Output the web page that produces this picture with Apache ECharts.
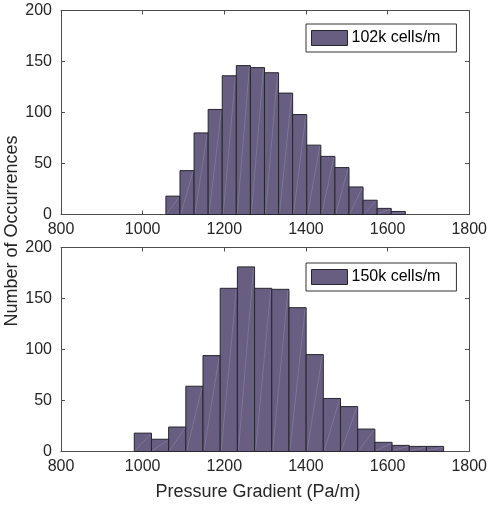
<!DOCTYPE html>
<html>
<head>
<meta charset="utf-8">
<script src="https://cdn.jsdelivr.net/npm/echarts@6/dist/echarts.min.js"></script>
<style>
  html, body { margin: 0; padding: 0; background: #fff; }
  #chart { width: 490px; height: 506px; }
</style>
</head>
<body>
<div id="chart"></div>
<script>
// ---- Data ----
const topName = '102k cells/m';
const topEdges = [1057, 1091.5, 1126, 1160.5, 1195, 1229.5, 1264, 1298.5, 1333, 1367.5,
                  1402, 1436.5, 1471, 1505.5, 1540, 1574.5, 1609, 1643.5];
const topCounts = [18, 43, 80, 103, 136, 146, 144, 139, 119, 98, 68, 57, 46, 27, 14, 6, 3];

const bottomName = '150k cells/m';
const bottomEdges = [979.5, 1021.6, 1063.7, 1105.8, 1147.9, 1190, 1232.1, 1274.2, 1316.3, 1358.4,
                     1400.5, 1442.6, 1484.7, 1526.8, 1568.9, 1611, 1653.1, 1695.2, 1737.3];
const bottomCounts = [18, 12, 24, 64, 94, 160, 181, 160, 159, 141, 95, 52, 44, 22, 9, 6, 5, 5];

const xTicks = [800, 1000, 1200, 1400, 1600, 1800];
const yTicks = [0, 50, 100, 150, 200];
const xLabelText = 'Pressure Gradient (Pa/m)';
const yLabelText = 'Number of Occurrences';

// ---- Styling ----
const FONT = "'Liberation Sans', Arial, Helvetica, sans-serif";
const barColor = '#675e81';
const edgeColor = '#26262e';
const axisColor = '#4d4d4d';
const textColor = '#262626';

function toBins(edges, counts) {
  return counts.map((c, i) => [edges[i], edges[i + 1], c]);
}

function renderHist(params, api) {
  const x0 = api.value(0), x1 = api.value(1), y = api.value(2);
  const p0 = api.coord([x0, 0]);
  const p1 = api.coord([x1, y]);
  return {
    type: 'group',
    children: [
      { type: 'rect',
        shape: { x: p0[0], y: p1[1], width: p1[0] - p0[0], height: p0[1] - p1[1] },
        style: { fill: barColor, stroke: edgeColor, lineWidth: 1 } },
      { type: 'line',
        shape: { x1: p0[0] + 1, y1: p0[1] - 1, x2: p1[0] - 1, y2: p1[1] + 1 },
        style: { stroke: 'rgba(255,255,255,0.2)', lineWidth: 0.7 } }
    ]
  };
}

const plainNum = v => String(v);

function xAxisMain(gridIndex) {
  return {
    type: 'value', gridIndex, position: 'bottom',
    min: xTicks[0], max: xTicks[xTicks.length - 1], interval: 200,
    axisLine: { show: true, onZero: false, lineStyle: { color: axisColor, width: 1 } },
    axisTick: { show: true, inside: true, length: 4, lineStyle: { color: axisColor } },
    axisLabel: { color: textColor, fontSize: 16, fontFamily: FONT, margin: 7,
                 formatter: plainNum, showMinLabel: true, showMaxLabel: true },
    splitLine: { show: false }
  };
}
function xAxisTop(gridIndex) {
  return {
    type: 'value', gridIndex, position: 'top',
    min: xTicks[0], max: xTicks[xTicks.length - 1], interval: 200,
    axisLine: { show: true, onZero: false, lineStyle: { color: axisColor, width: 1 } },
    axisTick: { show: true, inside: true, length: 4, lineStyle: { color: axisColor } },
    axisLabel: { show: false },
    splitLine: { show: false }
  };
}
function yAxisMain(gridIndex) {
  return {
    type: 'value', gridIndex, position: 'left',
    min: yTicks[0], max: yTicks[yTicks.length - 1], interval: 50,
    axisLine: { show: true, onZero: false, lineStyle: { color: axisColor, width: 1 } },
    axisTick: { show: true, inside: true, length: 4, lineStyle: { color: axisColor } },
    axisLabel: { color: textColor, fontSize: 16, fontFamily: FONT, margin: 9, formatter: plainNum },
    splitLine: { show: false }
  };
}
function yAxisRight(gridIndex) {
  return {
    type: 'value', gridIndex, position: 'right',
    min: yTicks[0], max: yTicks[yTicks.length - 1], interval: 50,
    axisLine: { show: true, onZero: false, lineStyle: { color: axisColor, width: 1 } },
    axisTick: { show: true, inside: true, length: 4, lineStyle: { color: axisColor } },
    axisLabel: { show: false },
    splitLine: { show: false }
  };
}

function legendFor(name, top) {
  return {
    data: [{ name, itemStyle: { color: barColor, borderColor: edgeColor, borderWidth: 1 } }],
    left: 306, top,
    orient: 'horizontal',
    icon: 'rect',
    itemWidth: 36, itemHeight: 15, itemGap: 0,
    padding: [6, 16, 6, 5],
    backgroundColor: '#fff',
    borderColor: '#333',
    borderWidth: 1,
    borderRadius: 0,
    textStyle: { color: '#000', fontSize: 16, fontFamily: FONT, padding: [0, 0, 0, -1] },
    selectedMode: false
  };
}

const chart = echarts.init(document.getElementById('chart'), null, { renderer: 'canvas' });
chart.setOption({
  animation: false,
  backgroundColor: '#fff',
  grid: [
    { left: 61, right: 18, top: 10.5, height: 204 },
    { left: 61, right: 18, top: 247.5, height: 204 }
  ],
  xAxis: [xAxisMain(0), xAxisTop(0), xAxisMain(1), xAxisTop(1)],
  yAxis: [yAxisMain(0), yAxisRight(0), yAxisMain(1), yAxisRight(1)],
  legend: [legendFor(topName, 24), legendFor(bottomName, 263)],
  graphic: [
    { type: 'text', x: 12, y: 231, rotation: Math.PI / 2,
      style: { text: yLabelText, fill: textColor, fontSize: 18, fontFamily: FONT,
               textAlign: 'center', textVerticalAlign: 'middle' } },
    { type: 'text', x: 258, y: 492,
      style: { text: xLabelText, fill: textColor, fontSize: 18, fontFamily: FONT,
               textAlign: 'center', textVerticalAlign: 'middle' } }
  ],
  series: [
    { name: topName, type: 'custom', xAxisIndex: 0, yAxisIndex: 0,
      itemStyle: { color: barColor },
      renderItem: renderHist, encode: { x: [0, 1], y: 2 },
      data: toBins(topEdges, topCounts) },
    { name: bottomName, type: 'custom', xAxisIndex: 2, yAxisIndex: 2,
      itemStyle: { color: barColor },
      renderItem: renderHist, encode: { x: [0, 1], y: 2 },
      data: toBins(bottomEdges, bottomCounts) }
  ]
});
</script>
</body>
</html>
